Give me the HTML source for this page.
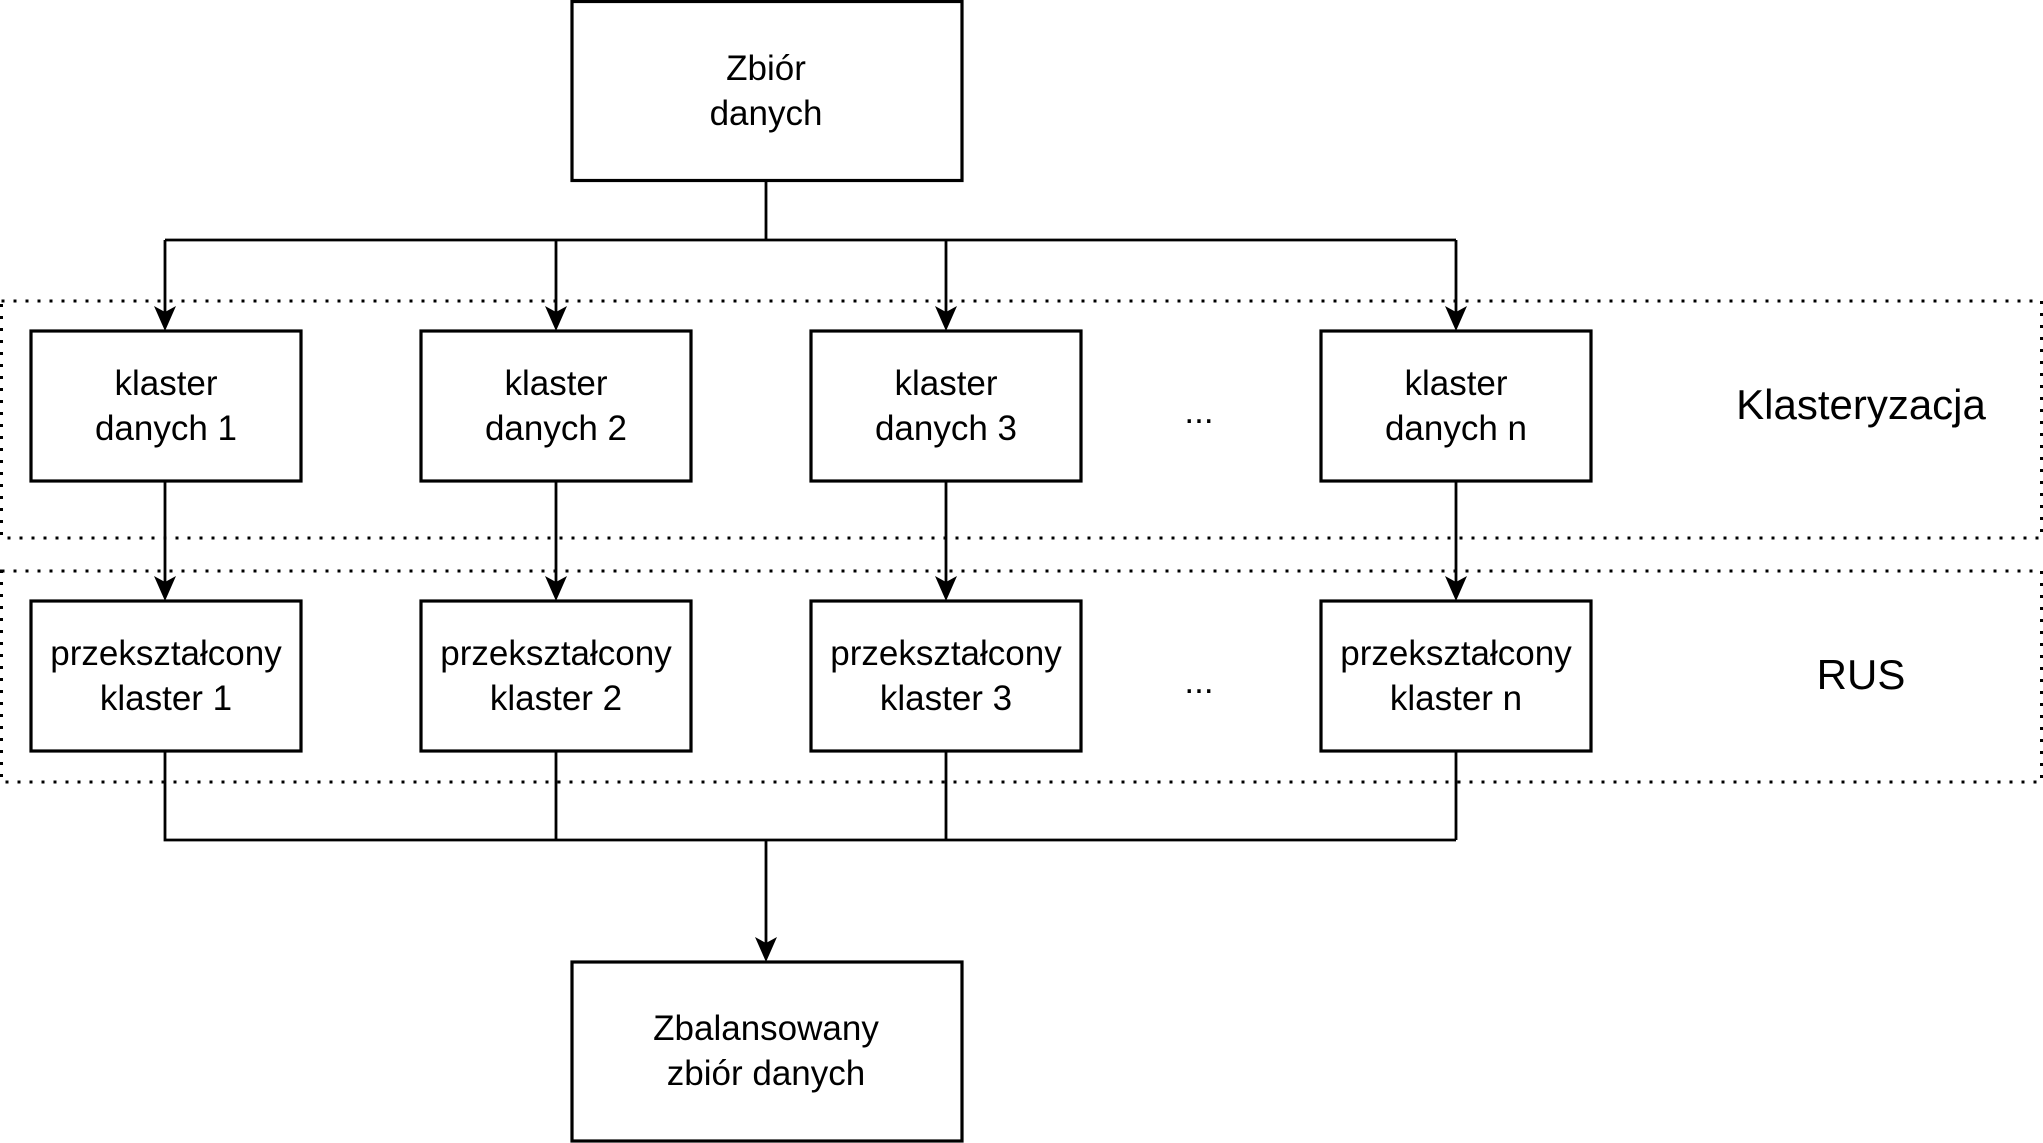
<!DOCTYPE html>
<html><head><meta charset="utf-8"><style>
html,body{margin:0;padding:0;background:#fff;}
svg{display:block;}
text{font-family:"Liberation Sans",Arial,sans-serif;fill:#000;}
</style></head><body>
<svg width="2043" height="1143" viewBox="0 0 2043 1143" xmlns="http://www.w3.org/2000/svg">
<rect x="1.5" y="301" width="2040" height="237" fill="none" stroke="#000" stroke-width="3" stroke-dasharray="3,9"/>
<rect x="1.5" y="571" width="2040" height="211" fill="none" stroke="#000" stroke-width="3" stroke-dasharray="3,9"/>

<g fill="none" stroke="#000" stroke-width="2.8">
<path d="M766 181V240M165 240H1456M165 240V312M556 240V312M946 240V312M1456 240V312"/>
<path d="M165 481V582M556 481V582M946 481V582M1456 481V582"/>
<path d="M165 751V840H1456M556 751V840M946 751V840M1456 751V840M766 840V943"/>
</g>
<g fill="#000">
<path d="M165 331l-11-25 11 6 11-6z"/>
<path d="M556 331l-11-25 11 6 11-6z"/>
<path d="M946 331l-11-25 11 6 11-6z"/>
<path d="M1456 331l-11-25 11 6 11-6z"/>
<path d="M165 601l-11-25 11 6 11-6z"/>
<path d="M556 601l-11-25 11 6 11-6z"/>
<path d="M946 601l-11-25 11 6 11-6z"/>
<path d="M1456 601l-11-25 11 6 11-6z"/>
<path d="M766 962l-11-25 11 6 11-6z"/>
</g>
<g fill="#fff" stroke="#000" stroke-width="3.2">
<rect x="572" y="1.5" width="390" height="179"/>
<rect x="31" y="331" width="270" height="150"/>
<rect x="421" y="331" width="270" height="150"/>
<rect x="811" y="331" width="270" height="150"/>
<rect x="1321" y="331" width="270" height="150"/>
<rect x="31" y="601" width="270" height="150"/>
<rect x="421" y="601" width="270" height="150"/>
<rect x="811" y="601" width="270" height="150"/>
<rect x="1321" y="601" width="270" height="150"/>
<rect x="572" y="962" width="390" height="179"/>
</g>
<g font-size="35" text-anchor="middle">
<text x="766" y="80">Zbiór</text><text x="766" y="125">danych</text>
<text x="166" y="395">klaster</text><text x="166" y="440">danych 1</text>
<text x="556" y="395">klaster</text><text x="556" y="440">danych 2</text>
<text x="946" y="395">klaster</text><text x="946" y="440">danych 3</text>
<text x="1456" y="395">klaster</text><text x="1456" y="440">danych n</text>
<text x="166" y="665">przekształcony</text><text x="166" y="710">klaster 1</text>
<text x="556" y="665">przekształcony</text><text x="556" y="710">klaster 2</text>
<text x="946" y="665">przekształcony</text><text x="946" y="710">klaster 3</text>
<text x="1456" y="665">przekształcony</text><text x="1456" y="710">klaster n</text>
<text x="766" y="1040">Zbalansowany</text><text x="766" y="1085">zbiór danych</text>
<text x="1199" y="423">...</text><text x="1199" y="693">...</text>
<text x="1861" y="419" font-size="42">Klasteryzacja</text>
<text x="1861" y="689" font-size="42">RUS</text>
</g>
</svg>
</body></html>
